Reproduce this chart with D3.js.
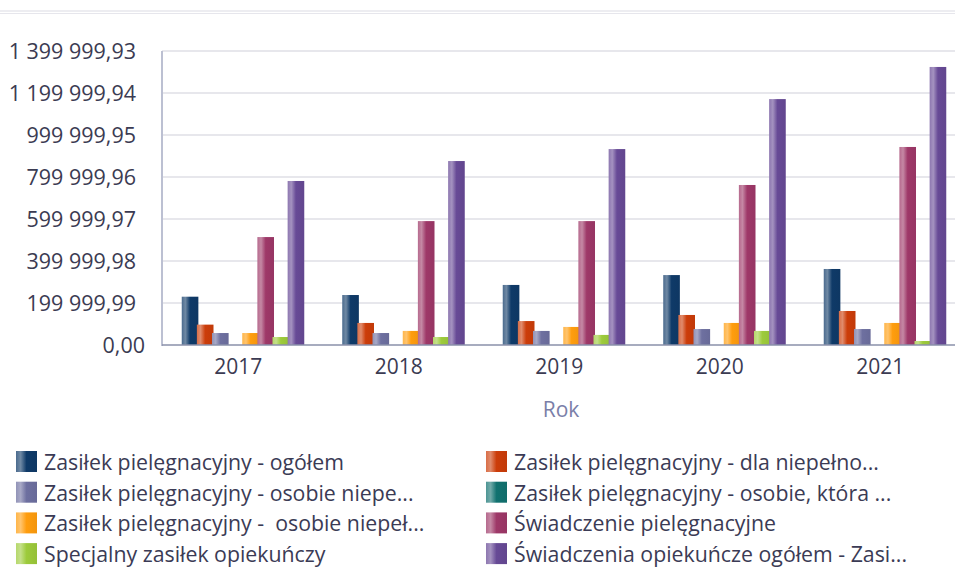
<!DOCTYPE html>
<meta charset="utf-8">
<style>
body { margin: 0; background: #fff; }
svg { display: block; font-family: "Open Sans", sans-serif; }
.grid line { stroke: #dfdfe6; stroke-width: 1.5; }
.ylab { fill: #3b3b52; font-size: 21.5px; }
.xlab { fill: #3b3b52; font-size: 21px; }
.legend text { fill: #3b3b55; font-size: 21.3px; white-space: pre; }
</style>
<svg width="955" height="567"></svg>
<script src="https://d3js.org/d3.v7.min.js"></script>
<script>

var years = ["2017", "2018", "2019", "2020", "2021"];

var seriesNames = [
  "Zasiłek pielęgnacyjny - ogółem",
  "Zasiłek pielęgnacyjny - dla niepełno...",
  "Zasiłek pielęgnacyjny - osobie niepe...",
  "Zasiłek pielęgnacyjny - osobie, która ...",
  "Zasiłek pielęgnacyjny -  osobie niepeł...",
  "Świadczenie pielęgnacyjne",
  "Specjalny zasiłek opiekuńczy",
  "Świadczenia opiekuńcze ogółem - Zasi..."
];

var seriesColors = ["#0f3a68", "#cc3d0a", "#6e70a0", "#127270", "#ff9d0e", "#9e3868", "#9dcb3b", "#674a96"];

// one array per series, values per year 2017..2021
var ogolem       = [230000, 238000, 286000, 333000, 362000];
var dlaNiepelno  = [ 97000, 105000, 114000, 143000, 162000];
var osobieNiepe  = [ 57000,  57000,  67000,  76000,  76000];
var osobieKtora  = [  null,   null,   null,   null,   null];
var osobieNiepel = [ 57000,  67000,  86000, 105000, 105000];
var swiadczenie  = [514000, 590000, 590000, 762000, 943000];
var specjalny    = [ 38000,  38000,  48000,  67000,  19000];
var opiekuncze   = [781000, 876000, 933000, 1171000, 1324000];

var seriesValues = [ogolem, dlaNiepelno, osobieNiepe, osobieKtora, osobieNiepel, swiadczenie, specjalny, opiekuncze];

var yTicks = d3.range(8).map(function(i) { return i * 199999.99; });

var svg = d3.select("svg"),
    width = +svg.attr("width"),
    height = +svg.attr("height");

// the category axis runs a bit past the right edge, as in the original
var plotLeft = 162, plotRight = 955, bandRight = 964.5, plotTop = 51, plotBottom = 345;

var fmt = d3.formatLocale({decimal: ",", thousands: " ", grouping: [3], currency: ["", " zł"]}).format(",.2f");

var x0 = d3.scaleBand().domain(years).range([plotLeft, bandRight]).paddingInner(0.246).paddingOuter(0.123);
var x1 = d3.scaleBand().domain(d3.range(seriesNames.length)).range([0, x0.bandwidth()]);
var y = d3.scaleLinear().domain([0, yTicks[yTicks.length - 1]]).range([plotBottom, plotTop]);

// gradients
var defs = svg.append("defs");
seriesColors.forEach(function(c, i) {
  var g = defs.append("linearGradient").attr("id", "grad" + i)
      .attr("x1", "0%").attr("x2", "100%").attr("y1", "0%").attr("y2", "0%");
  var base = d3.color(c);
  g.append("stop").attr("offset", "0%").attr("stop-color", d3.interpolateRgb(c, "#fff")(0.25));
  g.append("stop").attr("offset", "22%").attr("stop-color", d3.interpolateRgb(c, "#fff")(0.4));
  g.append("stop").attr("offset", "50%").attr("stop-color", c);
  g.append("stop").attr("offset", "100%").attr("stop-color", base.darker(0.15));
});

// top double rule
svg.append("line").attr("x1", 0).attr("x2", width).attr("y1", 11).attr("y2", 11)
    .attr("stroke", "#dcdce4").attr("stroke-width", 1.2);
svg.append("line").attr("x1", 0).attr("x2", width).attr("y1", 13.5).attr("y2", 13.5)
    .attr("stroke", "#e6e6ec").attr("stroke-width", 1);

// gridlines
svg.append("g").attr("class", "grid")
  .selectAll("line")
  .data(yTicks.slice(1))
  .enter().append("line")
    .attr("x1", plotLeft).attr("x2", plotRight)
    .attr("y1", function(d) { return y(d); })
    .attr("y2", function(d) { return y(d); });

// y labels
svg.append("g")
  .selectAll("text")
  .data(yTicks)
  .enter().append("text")
    .attr("class", "ylab")
    .attr("x", function(d) { return d === 0 ? 145 : 136; })
    .attr("y", function(d) { return y(d) + 7.5; })
    .attr("text-anchor", "end")
    .text(function(d) { return fmt(d); });

// bars
var groups = svg.append("g")
  .selectAll("g")
  .data(years)
  .enter().append("g")
    .attr("transform", function(d) { return "translate(" + x0(d) + ",0)"; });

groups.selectAll("rect")
  .data(function(d, yi) {
    return seriesValues.map(function(s, si) { return {si: si, v: s[yi]}; })
      .filter(function(e) { return e.v != null && e.v > 0; });
  })
  .enter().append("rect")
    .attr("x", function(d) { return x1(d.si); })
    .attr("width", x1.bandwidth() + 1.5)
    .attr("y", function(d) { return y(d.v); })
    .attr("height", function(d) { return plotBottom - y(d.v); })
    .attr("fill", function(d) { return "url(#grad" + d.si + ")"; });

// axes lines
svg.append("line").attr("x1", plotLeft).attr("x2", plotLeft).attr("y1", plotTop).attr("y2", plotBottom + 1)
    .attr("stroke", "#bcc0d2").attr("stroke-width", 2);
svg.append("line").attr("x1", plotLeft).attr("x2", plotRight).attr("y1", plotBottom).attr("y2", plotBottom)
    .attr("stroke", "#8a90aa").attr("stroke-width", 1.5);

// x labels
svg.append("g")
  .selectAll("text")
  .data(years)
  .enter().append("text")
    .attr("class", "xlab")
    .attr("x", function(d) { return x0(d) + x0.bandwidth() / 2 - 4; })
    .attr("y", 374)
    .attr("text-anchor", "middle")
    .text(function(d) { return d; });

svg.append("text")
    .attr("x", 561).attr("y", 417)
    .attr("text-anchor", "middle")
    .attr("fill", "#7a7ea8")
    .attr("font-size", "21px")
    .text("Rok");

// legend
var legend = svg.append("g").attr("class", "legend")
  .selectAll("g")
  .data(seriesNames)
  .enter().append("g")
    .attr("transform", function(d, i) {
      var col = i % 2, row = Math.floor(i / 2);
      return "translate(" + (col ? 486 : 16) + "," + (470 + row * 30.7) + ")";
    });

legend.append("rect")
    .attr("x", 0).attr("y", -19)
    .attr("width", 21).attr("height", 21)
    .attr("fill", function(d, i) { return "url(#grad" + i + ")"; });

legend.append("text")
    .attr("x", 28).attr("y", 0)
    .text(function(d) { return d; });

</script>
